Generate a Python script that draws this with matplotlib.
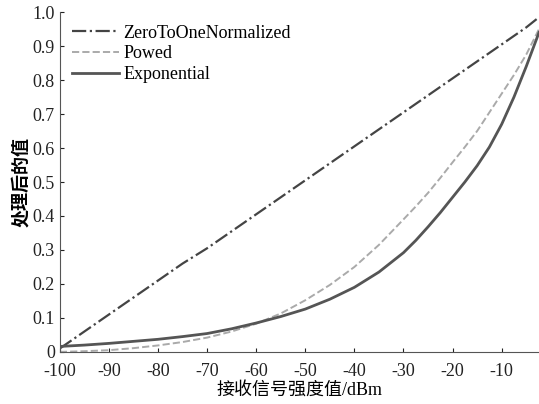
import matplotlib.pyplot as plt

# received signal strength (dBm) and processed values
rss = [-100, -95, -90, -85, -80, -75, -70, -65, -60, -55, -50,
       -45, -40, -35, -30, -27.5, -25, -22.5, -20, -17.5, -15,
       -12.5, -10, -7.5, -5, -2.4]
zero_to_one = [0.01, 0.06, 0.11, 0.16, 0.21, 0.26, 0.305, 0.355, 0.405, 0.455, 0.505,
               0.555, 0.605, 0.655, 0.705, 0.73, 0.755, 0.78, 0.805, 0.83, 0.855,
               0.88, 0.905, 0.93, 0.955, 0.985]
powed = [0.0, 0.002, 0.005, 0.011, 0.019, 0.029, 0.042, 0.06, 0.083, 0.113, 0.152,
         0.197, 0.25, 0.315, 0.39, 0.428, 0.468, 0.512, 0.558, 0.603, 0.65,
         0.705, 0.76, 0.815, 0.875, 0.95]
exponential = [0.016, 0.02, 0.025, 0.031, 0.037, 0.045, 0.054, 0.068, 0.085, 0.104, 0.126,
               0.155, 0.19, 0.235, 0.292, 0.328, 0.368, 0.41, 0.455, 0.5, 0.548,
               0.603, 0.67, 0.75, 0.84, 0.94]

xticks = [-100, -90, -80, -70, -60, -50, -40, -30, -20, -10]
yticks = [0, 0.1, 0.2, 0.3, 0.4, 0.5, 0.6, 0.7, 0.8, 0.9, 1.0]
ytick_labels = ["0", "0.1", "0.2", "0.3", "0.4", "0.5", "0.6", "0.7", "0.8", "0.9", "1.0"]

plt.rcParams['font.family'] = ['Liberation Serif', 'Noto Sans CJK SC']
plt.rcParams['axes.unicode_minus'] = False

fig = plt.figure(figsize=(5.39, 4.04), dpi=100)
ax = fig.add_axes([0.111, 0.129, 0.889, 0.841])

ax.plot(rss, zero_to_one, color='#444444', linestyle='-.', linewidth=1.6, label='ZeroToOneNormalized')
ax.plot(rss, powed, color='#aaaaaa', linestyle='--', linewidth=1.4, label='Powed')
ax.plot(rss, exponential, color='#555555', linestyle='-', linewidth=2.0, label='Exponential')

ax.set_xlim(-100, -2.4)
ax.set_ylim(0, 1.0)
ax.set_xticks(xticks)
ax.set_yticks(yticks)
ax.set_yticklabels(ytick_labels)
ax.tick_params(direction='in', length=3, labelsize=13, colors='#222222')
ax.tick_params(axis='x', pad=8)
ax.spines['top'].set_visible(False)
ax.spines['right'].set_visible(False)
ax.spines['left'].set_color('#555555')
ax.spines['bottom'].set_color('#555555')

ax.set_xlabel("接收信号强度值/dBm", fontsize=13, labelpad=1)
ax.set_ylabel("处理后的值", fontsize=13, family=['Noto Sans CJK SC'], fontweight='bold', labelpad=2)

ax.legend(loc='upper left', frameon=False, fontsize=13, handlelength=2.6,
          handletextpad=0.2, labelspacing=0.2, borderaxespad=0.3)

fig.savefig("out.png", dpi=100)
